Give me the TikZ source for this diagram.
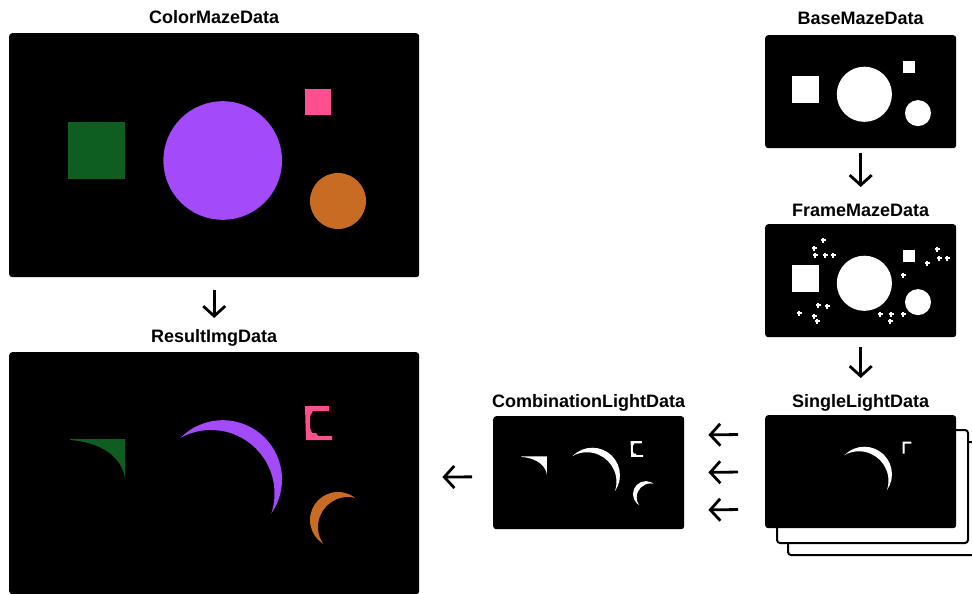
\documentclass[tikz,border=0pt]{standalone}
\usepackage{fontspec}
\setmainfont{Liberation Sans}
\usepackage{tikz}
\usetikzlibrary{arrows.meta,positioning}

\definecolor{mazegreen}{RGB}{14,94,34}
\definecolor{mazepurple}{RGB}{163,75,250}
\definecolor{mazepink}{RGB}{255,79,143}
\definecolor{mazeorange}{RGB}{200,108,36}

% maze shapes, in the coordinates of a full panel (410 x 244)
\newcommand{\mazeshapes}[4]{%
  \fill[#1] (59,89) rectangle (116,146);
  \fill[#2] (213.7,127.5) circle[radius=59.3];
  \fill[#3] (296,56) rectangle (322,82);
  \fill[#4] (329,168) circle[radius=28];
}
% lit parts of the shapes
\newcommand{\litgreen}[1]{\fill[#1] (61,87) -- (116,87) -- (116,127) .. controls (114,110) and (99,91) .. (61,88) -- cycle;}
\newcommand{\litpurple}[1]{%
  \begin{scope}
    \clip (213.7,127.5) circle[radius=59.3];
    \fill[#1,even odd rule] (202,141.5) circle[radius=63.5] (150,64) rectangle (278,192);
  \end{scope}}
\newcommand{\litpink}[1]{\fill[#1] (296,54) -- (320,54) -- (320,59) -- (304,59) -- (301,64) -- (301,76) -- (303,81) -- (307,81) -- (309,84) -- (323,84) -- (323,88) -- (297,88) -- cycle;}
\newcommand{\litpinkcorner}[1]{\fill[#1] (296,57) -- (315,57) -- (315,61.5) -- (300.5,61.5) -- (300.5,83) -- (296,83) -- cycle;}
\newcommand{\litorange}[1]{%
  \begin{scope}
    \clip (329,168) circle[radius=28];
    \fill[#1,even odd rule] (339,175) circle[radius=30] (298,137) rectangle (360,199);
  \end{scope}}

\begin{document}
\begin{tikzpicture}[x=1pt,y=-1pt,
    panel/.style={fill=black,rounded corners=3pt,inner sep=0pt,anchor=north west,
      minimum width=410pt,minimum height=244pt},
    minipanel/.style={panel,minimum width=191pt,minimum height=113pt},
    page/.style={minipanel,fill=white,draw=black,line width=2pt},
    title/.style={font=\fontsize{18}{21}\selectfont\bfseries,inner sep=0pt,anchor=base},
    flow/.style={-{Straight Barb[length=10pt,width=22pt]},line width=2.8pt},
    dot/.style={white,line width=1.3pt}]
  \clip (0,0) rectangle (972,594);

  \node[panel] (colormaze) at (9,33) {};
  \node[panel,minimum height=242pt] (resultimg) at (9,352) {};
  \node[minipanel] (basemaze) at (765,35) {};
  \node[minipanel] (framemaze) at (765,224) {};
  \node[page] (page3) at (787,441) {};
  \node[page] (page2) at (776,429) {};
  \node[minipanel] (singlelight) at (765,415) {};
  \node[minipanel] (combination) at (493,416) {};

  \node[above=9pt of colormaze,title] (colormazet) {ColorMazeData};
  \node[above=10pt of resultimg,title] (resultimgt) {ResultImgData};
  \node[above=10pt of basemaze,title] (basemazet) {BaseMazeData};
  \node[above=8pt of framemaze,title] (framemazet) {FrameMazeData};
  \node[above=8pt of singlelight,title] (singlelightt) {SingleLightData};
  \node[above=9pt of combination,title] (combinationt) {CombinationLightData};

  % panel contents
  \begin{scope}[shift={(colormaze.north west)}]
    \mazeshapes{mazegreen}{mazepurple}{mazepink}{mazeorange}
  \end{scope}
  \begin{scope}[shift={(resultimg.north west)}]
    \litgreen{mazegreen} \litpurple{mazepurple} \litpink{mazepink} \litorange{mazeorange}
  \end{scope}
  \begin{scope}[shift={(basemaze.north west)},scale=0.465]
    \mazeshapes{white}{white}{white}{white}
  \end{scope}
  \begin{scope}[shift={(framemaze.north west)},scale=0.465]
    \mazeshapes{white}{white}{white}{white}
  \end{scope}
  \foreach \px/\py in {823/240,814/248,815/255,825/255,833/255,818/305,827/306,
      799/313,814/316,817/321,937/249,939/258,947/258,927/263,903/275,
      880/314,891/314,903/314,890/321}
    \draw[dot] (\px-2.5,\py) -- (\px+2.5,\py) (\px,\py-2.5) -- (\px,\py+2.5);
  \begin{scope}[shift={(combination.north west)},scale=0.465]
    \litgreen{white} \litpurple{white} \litpink{white} \litorange{white}
  \end{scope}
  \begin{scope}[shift={(singlelight.north west)},scale=0.465]
    \litpurple{white} \litpinkcorner{white}
  \end{scope}

  % data flow
  \draw[flow,shorten <=13pt,shorten >=34pt] (colormaze.south) -- (resultimg.north);
  \draw[flow,shorten <=5pt,shorten >=37pt] (basemaze.south) -- (framemaze.north);
  \draw[flow,shorten <=10pt,shorten >=37pt] (framemaze.south) -- (singlelight.north);
  \foreach \dy in {-37.5pt,0pt,37.5pt}
    \draw[flow,shorten <=27pt,shorten >=24pt] ([yshift=\dy]singlelight.west) -- ([yshift=\dy]combination.east);
  \draw[flow,shorten <=21pt,shorten >=23pt] ([yshift=-4pt]combination.west) -- ([yshift=-4pt]resultimg.east);
\end{tikzpicture}
\end{document}
